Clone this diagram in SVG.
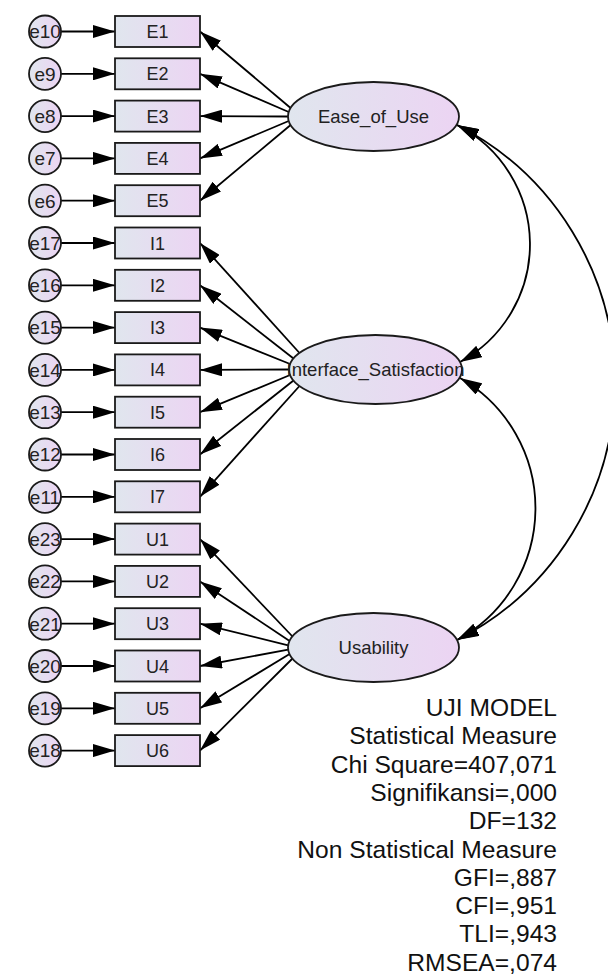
<svg xmlns="http://www.w3.org/2000/svg" width="608" height="976" viewBox="0 0 608 976">
<defs>
<linearGradient id="fillg" x1="0" y1="0" x2="1" y2="0">
<stop offset="0" stop-color="#e0e6ee"/>
<stop offset="1" stop-color="#ecd4f3"/>
</linearGradient>
<marker id="ah" viewBox="0 0 22 13" refX="22" refY="6.5" markerWidth="22" markerHeight="13" markerUnits="userSpaceOnUse" orient="auto-start-reverse">
<path d="M0,0 L22,6.5 L0,13 Z" fill="#000"/>
</marker>
<style>
.box{fill:url(#fillg);stroke:#1a1a1a;stroke-width:1.8}
.t{font-family:"Liberation Sans",Arial,sans-serif;font-size:18px;fill:#222;text-anchor:middle}
.te{font-family:"Liberation Sans",Arial,sans-serif;font-size:19px;fill:#222;text-anchor:middle}
.c{fill:none;stroke:#000;stroke-width:1.8}
.a{marker-end:url(#ah)}
.d{marker-start:url(#ah);marker-end:url(#ah)}
.info{font-family:"Liberation Sans",Arial,sans-serif;font-size:24.6px;fill:#111;text-anchor:end}
</style>
</defs>
<rect width="608" height="976" fill="#fff"/>
<g id="connectors">
<path class="c a" d="M61,31.5 L115,31.5"/>
<path class="c a" d="M61,73.8 L115,73.8"/>
<path class="c a" d="M61,116.1 L115,116.1"/>
<path class="c a" d="M61,158.4 L115,158.4"/>
<path class="c a" d="M61,200.7 L115,200.7"/>
<path class="c a" d="M61,243 L115,243"/>
<path class="c a" d="M61,285.3 L115,285.3"/>
<path class="c a" d="M61,327.6 L115,327.6"/>
<path class="c a" d="M61,369.9 L115,369.9"/>
<path class="c a" d="M61,412.2 L115,412.2"/>
<path class="c a" d="M61,454.5 L115,454.5"/>
<path class="c a" d="M61,496.8 L115,496.8"/>
<path class="c a" d="M61,539.1 L115,539.1"/>
<path class="c a" d="M61,581.4 L115,581.4"/>
<path class="c a" d="M61,623.7 L115,623.7"/>
<path class="c a" d="M61,666 L115,666"/>
<path class="c a" d="M61,708.3 L115,708.3"/>
<path class="c a" d="M61,750.6 L115,750.6"/>
<path class="c a" d="M290.6,108 L200,31.5"/>
<path class="c a" d="M288.7,112 L200,73.8"/>
<path class="c a" d="M288,116.5 L200,116.1"/>
<path class="c a" d="M288.7,121 L200,158.4"/>
<path class="c a" d="M290.6,125 L200,200.7"/>
<path class="c a" d="M299.5,353 L200,243"/>
<path class="c a" d="M293.5,358.5 L200,285.3"/>
<path class="c a" d="M290.1,364 L200,327.6"/>
<path class="c a" d="M289,369.5 L200,369.9"/>
<path class="c a" d="M290.1,375 L200,412.2"/>
<path class="c a" d="M293.5,380.5 L200,454.5"/>
<path class="c a" d="M299.5,386 L200,496.8"/>
<path class="c a" d="M292.5,636.5 L200,539.1"/>
<path class="c a" d="M289.6,640.9 L200,581.4"/>
<path class="c a" d="M288.2,645.3 L200,623.7"/>
<path class="c a" d="M288.2,649.7 L200,666"/>
<path class="c a" d="M289.6,654.1 L200,708.3"/>
<path class="c a" d="M292.5,658.5 L200,750.6"/>
<path class="c d" d="M457,125 A134,134 0 0 1 460,362"/>
<path class="c d" d="M460,378 A150,150 0 0 1 457,640"/>
<path class="c d" d="M457,125 A289,289 0 0 1 457,640"/>
</g>
<g id="e10"><circle class="box" cx="45" cy="31.5" r="16"/><text class="te" x="45" y="38.3">e10</text></g>
<g id="e9"><circle class="box" cx="45" cy="73.8" r="16"/><text class="te" x="45" y="80.6">e9</text></g>
<g id="e8"><circle class="box" cx="45" cy="116.1" r="16"/><text class="te" x="45" y="122.9">e8</text></g>
<g id="e7"><circle class="box" cx="45" cy="158.4" r="16"/><text class="te" x="45" y="165.2">e7</text></g>
<g id="e6"><circle class="box" cx="45" cy="200.7" r="16"/><text class="te" x="45" y="207.5">e6</text></g>
<g id="e17"><circle class="box" cx="45" cy="243" r="16"/><text class="te" x="45" y="249.8">e17</text></g>
<g id="e16"><circle class="box" cx="45" cy="285.3" r="16"/><text class="te" x="45" y="292.1">e16</text></g>
<g id="e15"><circle class="box" cx="45" cy="327.6" r="16"/><text class="te" x="45" y="334.4">e15</text></g>
<g id="e14"><circle class="box" cx="45" cy="369.9" r="16"/><text class="te" x="45" y="376.7">e14</text></g>
<g id="e13"><circle class="box" cx="45" cy="412.2" r="16"/><text class="te" x="45" y="419">e13</text></g>
<g id="e12"><circle class="box" cx="45" cy="454.5" r="16"/><text class="te" x="45" y="461.3">e12</text></g>
<g id="e11"><circle class="box" cx="45" cy="496.8" r="16"/><text class="te" x="45" y="503.6">e11</text></g>
<g id="e23"><circle class="box" cx="45" cy="539.1" r="16"/><text class="te" x="45" y="545.9">e23</text></g>
<g id="e22"><circle class="box" cx="45" cy="581.4" r="16"/><text class="te" x="45" y="588.2">e22</text></g>
<g id="e21"><circle class="box" cx="45" cy="623.7" r="16"/><text class="te" x="45" y="630.5">e21</text></g>
<g id="e20"><circle class="box" cx="45" cy="666" r="16"/><text class="te" x="45" y="672.8">e20</text></g>
<g id="e19"><circle class="box" cx="45" cy="708.3" r="16"/><text class="te" x="45" y="715.1">e19</text></g>
<g id="e18"><circle class="box" cx="45" cy="750.6" r="16"/><text class="te" x="45" y="757.4">e18</text></g>
<g id="E1"><rect class="box" x="115" y="16" width="85" height="31"/><text class="t" x="157.5" y="38">E1</text></g>
<g id="E2"><rect class="box" x="115" y="58.3" width="85" height="31"/><text class="t" x="157.5" y="80.3">E2</text></g>
<g id="E3"><rect class="box" x="115" y="100.6" width="85" height="31"/><text class="t" x="157.5" y="122.6">E3</text></g>
<g id="E4"><rect class="box" x="115" y="142.9" width="85" height="31"/><text class="t" x="157.5" y="164.9">E4</text></g>
<g id="E5"><rect class="box" x="115" y="185.2" width="85" height="31"/><text class="t" x="157.5" y="207.2">E5</text></g>
<g id="I1"><rect class="box" x="115" y="227.5" width="85" height="31"/><text class="t" x="157.5" y="249.5">I1</text></g>
<g id="I2"><rect class="box" x="115" y="269.8" width="85" height="31"/><text class="t" x="157.5" y="291.8">I2</text></g>
<g id="I3"><rect class="box" x="115" y="312.1" width="85" height="31"/><text class="t" x="157.5" y="334.1">I3</text></g>
<g id="I4"><rect class="box" x="115" y="354.4" width="85" height="31"/><text class="t" x="157.5" y="376.4">I4</text></g>
<g id="I5"><rect class="box" x="115" y="396.7" width="85" height="31"/><text class="t" x="157.5" y="418.7">I5</text></g>
<g id="I6"><rect class="box" x="115" y="439" width="85" height="31"/><text class="t" x="157.5" y="461">I6</text></g>
<g id="I7"><rect class="box" x="115" y="481.3" width="85" height="31"/><text class="t" x="157.5" y="503.3">I7</text></g>
<g id="U1"><rect class="box" x="115" y="523.6" width="85" height="31"/><text class="t" x="157.5" y="545.6">U1</text></g>
<g id="U2"><rect class="box" x="115" y="565.9" width="85" height="31"/><text class="t" x="157.5" y="587.9">U2</text></g>
<g id="U3"><rect class="box" x="115" y="608.2" width="85" height="31"/><text class="t" x="157.5" y="630.2">U3</text></g>
<g id="U4"><rect class="box" x="115" y="650.5" width="85" height="31"/><text class="t" x="157.5" y="672.5">U4</text></g>
<g id="U5"><rect class="box" x="115" y="692.8" width="85" height="31"/><text class="t" x="157.5" y="714.8">U5</text></g>
<g id="U6"><rect class="box" x="115" y="735.1" width="85" height="31"/><text class="t" x="157.5" y="757.1">U6</text></g>
<g id="Ease_of_Use"><ellipse class="box" cx="373.5" cy="116.5" rx="85.5" ry="34.5"/><text class="t" x="373.5" y="123" style="font-size:18.5px">Ease_of_Use</text></g>
<g id="Interface_Satisfaction"><ellipse class="box" cx="375.5" cy="369.5" rx="86.5" ry="34.5"/><text class="t" x="375.5" y="376" style="font-size:18.5px">Interface_Satisfaction</text></g>
<g id="Usability"><ellipse class="box" cx="373.5" cy="647.5" rx="85.5" ry="34.5"/><text class="t" x="373.5" y="654" style="font-size:18.5px">Usability</text></g>
<g id="fit_summary">
<text class="info" x="557" y="716">UJI MODEL</text>
<text class="info" x="557" y="744.3">Statistical Measure</text>
<text class="info" x="557" y="772.6">Chi Square=407,071</text>
<text class="info" x="557" y="800.9">Signifikansi=,000</text>
<text class="info" x="557" y="829.2">DF=132</text>
<text class="info" x="557" y="857.5">Non Statistical Measure</text>
<text class="info" x="557" y="885.8">GFI=,887</text>
<text class="info" x="557" y="914.1">CFI=,951</text>
<text class="info" x="557" y="942.4">TLI=,943</text>
<text class="info" x="557" y="970.7">RMSEA=,074</text>
</g>
</svg>
